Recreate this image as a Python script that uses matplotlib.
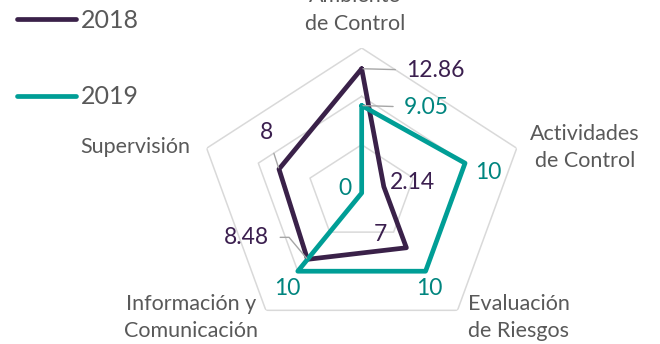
import numpy as np
import matplotlib.pyplot as plt

plt.rcParams['font.family'] = ['Lato', 'DejaVu Sans']

# Componentes evaluados y puntajes por año
categorias = ['Ambiente\nde Control', 'Actividades\nde Control', 'Evaluación\nde Riesgos',
              'Información y\nComunicación', 'Supervisión']
valores_2018 = [12.86, 2.14, 7, 8.48, 8]
valores_2019 = [9.05, 10, 10, 10, 0]
niveles = [5, 10, 15]

color_2018 = '#3a2149'
color_2019 = '#009e96'
texto_2018 = '#3b1f4f'
texto_2019 = '#00857f'
gris_texto = '#595959'
gris_grid = '#d9d9d9'
gris_guia = '#a6a6a6'

angulos = np.linspace(0, 2 * np.pi, len(categorias), endpoint=False)
theta = np.append(angulos, angulos[0])

def cerrar(v):
    return list(v) + [v[0]]

fig = plt.figure(figsize=(6.6, 3.44), dpi=100)
ax = fig.add_axes([0.301, 0.0174, 0.494, 0.843], projection='polar')
ax.set_theta_offset(np.pi / 2)
ax.set_theta_direction(-1)
ax.set_aspect('auto')
ax.set_ylim(0, 15)
ax.grid(False)
ax.spines['polar'].set_visible(False)
ax.set_xticks([])
ax.set_yticks([])
ax.patch.set_visible(False)

# rejilla pentagonal
for n in niveles:
    ax.plot(theta, [n] * len(theta), color=gris_grid, lw=1.1, zorder=1)

ax.plot(theta, cerrar(valores_2018), color=color_2018, lw=3.4,
        solid_joinstyle='round', solid_capstyle='round', label='2018', zorder=3)
ax.plot(theta, cerrar(valores_2019), color=color_2019, lw=3.4,
        solid_joinstyle='round', solid_capstyle='round', label='2019', zorder=4)

# nombres de los ejes
pos_cat = [(-7, 38), (68, 1), (61, -7), (-75, -7), (-71, 1)]
for ang, nombre, off in zip(angulos, categorias, pos_cat):
    ax.annotate(nombre, xy=(ang, 15), xytext=off, textcoords='offset pixels',
                ha='center', va='center', fontsize=15.5, color=gris_texto,
                linespacing=1.45, annotation_clip=False)

# etiquetas de datos
def guia(estilo='arc3'):
    return dict(arrowstyle='-', color=gris_guia, lw=1, shrinkA=6, shrinkB=1,
                connectionstyle=estilo)

off_2018 = [(74, -2), (29, 4), (-26, 13), (-61, 22), (-12, 37)]
guias_2018 = [guia(), None, None, guia('angle,angleA=0,angleB=130,rad=0'), guia()]
for ang, v, off, g in zip(angulos, valores_2018, off_2018, guias_2018):
    ax.annotate(f'{v:g}', xy=(ang, v), xytext=off, textcoords='offset pixels',
                ha='center', va='center', fontsize=16.5, color=texto_2018,
                arrowprops=g, zorder=5)

off_2019 = [(65, -2), (23, -9), (4, -17), (-11, -17), (-17, 5)]
guias_2019 = [guia(), None, None, None, None]
for ang, v, off, g in zip(angulos, valores_2019, off_2019, guias_2019):
    ax.annotate(f'{v:g}', xy=(ang, v), xytext=off, textcoords='offset pixels',
                ha='center', va='center', fontsize=16.5, color=texto_2019,
                arrowprops=g, zorder=5)

leg = fig.legend(loc='upper left', bbox_to_anchor=(-0.008, 1.04), frameon=False,
                 fontsize=18, handlelength=2.35, handletextpad=0.2, labelspacing=2.15)
for t in leg.get_texts():
    t.set_color(gris_texto)

fig.savefig('out.png', dpi=100)
